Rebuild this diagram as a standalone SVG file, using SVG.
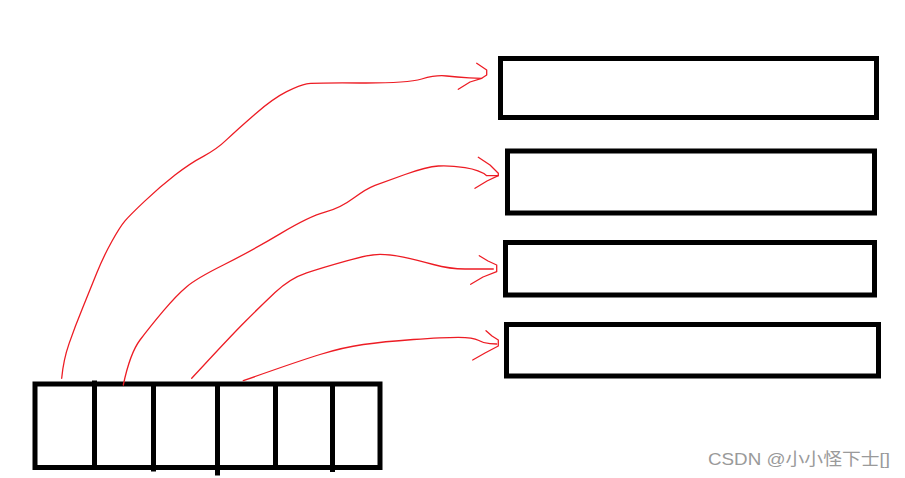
<svg xmlns="http://www.w3.org/2000/svg" width="905" height="478" viewBox="0 0 905 478">
<style>
.box{fill:none;stroke:#000;stroke-width:5}
.div{stroke:#000;stroke-width:5}
.arr{fill:none;stroke:#ED1C24;stroke-width:1.3;stroke-linejoin:round;stroke-linecap:round}
.wm{font-family:"Liberation Sans","Noto Sans CJK SC",sans-serif;font-size:17px;fill:#9a9a9a}
</style>
<rect width="905" height="478" fill="#fff"/>
<g id="array">
<rect class="box" x="35" y="384" width="345" height="83.5"/>
<line class="div" x1="94.5" y1="380.5" x2="94.5" y2="467"/>
<line class="div" x1="153.5" y1="384" x2="153.5" y2="471.5"/>
<line class="div" x1="217.5" y1="384" x2="217.5" y2="475.5"/>
<line class="div" x1="275.5" y1="384" x2="275.5" y2="467"/>
<line class="div" x1="332.5" y1="384" x2="332.5" y2="472"/>
</g>
<g id="box1"><rect class="box" x="500.5" y="58.5" width="376" height="59"/></g>
<g id="box2"><rect class="box" x="507.5" y="151" width="367" height="62"/></g>
<g id="box3"><rect class="box" x="505.5" y="242.5" width="369" height="52.5"/></g>
<g id="box4"><rect class="box" x="506.5" y="324.5" width="372" height="51.5"/></g>
<g id="connectors">
<path class="arr" d="M61.7,378.3 Q63.3,360 69.15,343.35 Q75,326.7 82.5,308.35 Q90,290 96.65,273.35 Q103.3,256.7 111.65,241.7 Q120,226.7 125,220.85 Q130,215 145,200.85 Q160,186.7 175,175 Q190,163.3 203.35,156.3 Q216.7,149.3 226.7,139.65 Q236.7,130 255,114.15 Q273.3,98.3 286.65,91.65 Q300,85 306.65,83.85 Q313.3,82.7 360,83 Q406.7,83.3 421.7,79 Q436.7,74.7 446.7,76 Q456.7,77.3 469.2,77.8 L481.7,78.3"/>
<path class="arr" d="M476.7,63.3 L486.7,70 L486.7,75 L481.7,78.3 L470,82 L458.3,89.3"/>
<path class="arr" d="M123.3,385 Q130,353.3 140,340 Q150,326.7 163.35,310.85 Q176.7,295 186.7,286.65 Q196.7,278.3 223.35,265 Q250,251.7 280,233.85 Q310,216 325,212.15 Q340,208.3 353.35,198.3 Q366.7,188.3 375,185.3 Q383.3,182.3 405,174.5 Q426.7,166.7 438.35,166 Q450,165.3 465,167.65 Q480,170 486.7,175.7 L498.3,175.7"/>
<path class="arr" d="M478.3,157.3 L490,165 L498.3,173.3 L498.3,175.7 L487,181 L475,188.3"/>
<path class="arr" d="M191.7,378.3 Q230,336.7 245,321.7 Q260,306.7 275,292.5 Q290,278.3 306.65,272.8 Q323.3,267.3 346.65,260.8 Q370,254.3 380,254.3 Q390,254.3 403.35,257.15 Q416.7,260 433.35,264.5 Q450,269 465,269 L493.3,269"/>
<path class="arr" d="M479.3,255.7 L488,261 L496.7,265 L496.7,271.7 L483,277 L470.7,284.3"/>
<path class="arr" d="M243.3,380.7 Q296.7,361.7 320,354.5 Q343.3,347.3 363.3,344.5 Q383.3,341.7 413.3,339.5 Q443.3,337.3 458.3,337.3 Q473.3,337.3 478.3,340.3 Q483.3,343.3 490,343.65 L496.7,344"/>
<path class="arr" d="M486,330.7 L492,336 L498.3,340 L498.3,346 L485,353 L472.7,360"/>
</g>
<text class="wm" x="708" y="465" textLength="182" lengthAdjust="spacingAndGlyphs">CSDN @小小怪下士[]</text>
</svg>
